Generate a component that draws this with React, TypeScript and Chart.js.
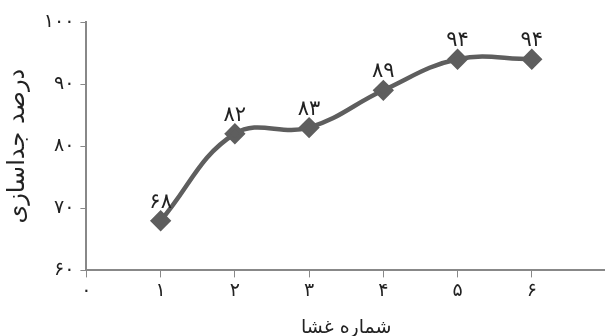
import React, { useEffect, useRef } from "react";
import { Chart, registerables } from "chart.js";

Chart.register(...registerables);

const membranes = [1, 2, 3, 4, 5, 6];
const separation = [68, 82, 83, 89, 94, 94];
const pointLabels = ["۶۸", "۸۲", "۸۳", "۸۹", "۹۴", "۹۴"];
const xTickLabels = ["۰", "۱", "۲", "۳", "۴", "۵", "۶", ""];
const yTickLabels: Record<number, string> = { 60: "۶۰", 70: "۷۰", 80: "۸۰", 90: "۹۰", 100: "۱۰۰" };
const xTitle = "شماره غشا";
const yTitle = "درصد جداسازی";

const FONT = "'DejaVu Sans', 'Noto Sans', sans-serif";

const labelPlugin = {
  id: "pointLabels",
  afterDatasetsDraw(chart: any) {
    const ctx = chart.ctx;
    const meta = chart.getDatasetMeta(0);
    ctx.save();
    ctx.fillStyle = "#222";
    ctx.font = `21px ${FONT}`;
    ctx.textAlign = "center";
    ctx.textBaseline = "bottom";
    meta.data.forEach((el: any, i: number) => {
      ctx.fillText(pointLabels[i], el.x, el.y - 8);
    });
    ctx.restore();
  },
};

export default function App() {
  const ref = useRef<HTMLCanvasElement>(null);
  useEffect(() => {
    document.body.style.margin = "0";
    const chart = new Chart(ref.current!, {
      type: "line",
      data: {
        datasets: [
          {
            data: membranes.map((m, i) => ({ x: m, y: separation[i] })),
            borderColor: "#5e5e5e",
            backgroundColor: "#5e5e5e",
            borderWidth: 4.5,
            tension: 0.4,
            pointStyle: "rectRot",
            pointRadius: 7.5,
            pointHoverRadius: 7.5,
            pointBackgroundColor: "#5e5e5e",
            pointBorderColor: "#5e5e5e",
          },
        ],
      },
      options: {
        animation: false,
        responsive: false,
        maintainAspectRatio: false,
        layout: { padding: { top: 22, right: 0, left: 3, bottom: 0 } },
        plugins: { legend: { display: false }, tooltip: { enabled: false } },
        scales: {
          x: {
            type: "linear",
            min: 0,
            max: 7,
            ticks: {
              stepSize: 1,
              autoSkip: false,
              maxRotation: 0,
              color: "#222",
              font: { family: FONT, size: 19 },
              padding: 2,
              callback: (v: any) => xTickLabels[v] ?? "",
            },
            grid: { drawOnChartArea: false, drawTicks: true, tickLength: 7, color: "#888" },
            border: { color: "#888", width: 2 },
            title: {
              display: true,
              text: xTitle,
              color: "#222",
              font: { family: FONT, size: 19 },
              padding: { top: 12, bottom: 0 },
            },
          },
          y: {
            min: 60,
            max: 100,
            ticks: {
              stepSize: 10,
              color: "#222",
              font: { family: FONT, size: 19 },
              padding: 6,
              callback: (v: any) => yTickLabels[v] ?? "",
            },
            grid: { drawOnChartArea: false, drawTicks: true, tickLength: 6, color: "#888" },
            border: { color: "#888", width: 2 },
            title: {
              display: true,
              text: yTitle,
              color: "#222",
              font: { family: FONT, size: 24 },
              padding: { top: 0, bottom: 6 },
            },
          },
        },
      },
      plugins: [labelPlugin],
    } as any);
    return () => chart.destroy();
  }, []);
  return (
    <div style={{ position: "absolute", left: 0, top: 0, width: 605, height: 336, overflow: "hidden" }}>
      <canvas ref={ref} width={618} height={339} />
    </div>
  );
}
